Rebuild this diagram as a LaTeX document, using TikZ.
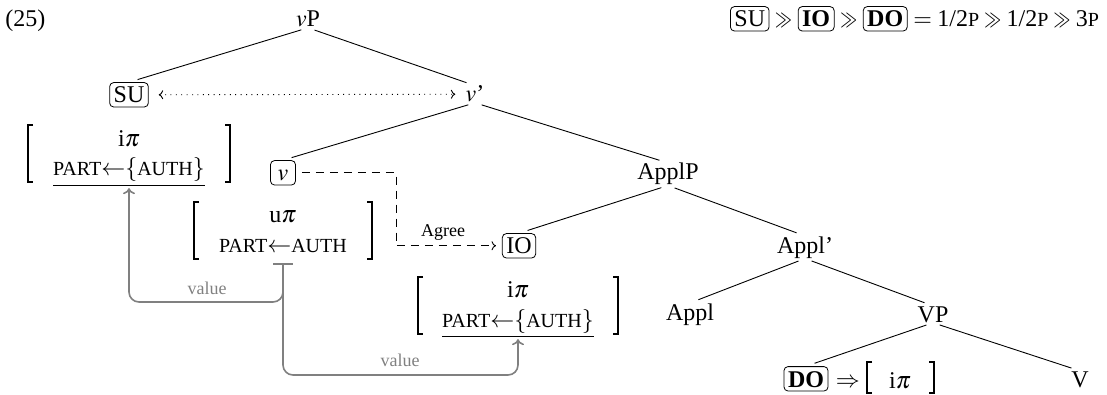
\documentclass[tikz,border=0pt]{standalone}
\usepackage{mathptmx}
\usepackage{graphicx}
\usepackage{fontspec}
\setmainfont{Liberation Serif}
\usetikzlibrary{arrows.meta}
% feature names are set in reduced capitals
\newcommand{\smc}[1]{{\fontsize{10pt}{11pt}\selectfont #1}}
% a narrower "much greater than"
\newcommand{\ggrel}{\mathrel{\scalebox{0.7}[1]{$\gg$}}}

\begin{document}
\begin{tikzpicture}[x=0.5pt,y=-0.5pt,
  every node/.style={font=\fontsize{12pt}{14pt}\selectfont},
  lbl/.style={inner sep=0pt, anchor=base},
  catbox/.style={draw, rounded corners=2pt, inner sep=2pt, line width=0.4pt,
                 text height=8.2pt, text depth=0pt, anchor=base},
  branch/.style={line width=0.45pt, shorten <=3.5pt, shorten >=4.5pt},
  featbar/.style={line width=0.6pt},
  valtip/.tip={To[length=3pt,width=6pt]},
  smalltip/.tip={To[length=2.2pt,width=4.5pt]},
  valuelink/.style={draw=black!50, line width=0.8pt, rounded corners=5pt, -valtip, shorten >=0.5pt},
  valuelbl/.style={lbl, text=black!50, font=\fontsize{9pt}{11pt}\selectfont},
  smalllbl/.style={lbl, font=\fontsize{9pt}{11pt}\selectfont},
]
\useasboundingbox (0,0) rectangle (1107,395);

% example number and hierarchy
\node[lbl, anchor=base west] (exnum) at (5,27) {(25)};
\node[catbox, anchor=base west] (f1) at (730,27) {SU};
\node[lbl, anchor=base west] (f2) at (f1.base east) {$\;\ggrel\;$};
\node[catbox, anchor=base west] (f3) at (f2.base east) {\textbf{IO}};
\node[lbl, anchor=base west] (f4) at (f3.base east) {$\;\ggrel\;$};
\node[catbox, anchor=base west] (f5) at (f4.base east) {\textbf{DO}};
\node[lbl, anchor=base west] (f6) at (f5.base east)
  {$\;=\;$1/2\smc{P}$\;\ggrel\;$1/2\smc{P}$\;\ggrel\;$3\smc{P}};

% tree nodes
\node[lbl] (vP) at (308,27) {$v$P};
\node[catbox] (su) at (129,103) {SU};
\node[lbl] (vbar) at (475,102) {$v$'};
\node[catbox, minimum width=12.5pt] (vhead) at (283,181) {$v$};
\node[lbl] (applP) at (668,180) {ApplP};
\node[catbox] (io) at (519,254) {IO};
\node[lbl] (applbar) at (805,253) {Appl'};
\node[lbl] (appl) at (690,320) {Appl};
\node[lbl] (vp) at (933,322) {VP};
\node[catbox] (do) at (806,387) {\textbf{DO}};
\node[lbl] (verb) at (1080,387) {V};

% branches
\draw[branch] (vP.south) -- (su.north);
\draw[branch] (vP.south) -- (vbar.north);
\draw[branch] (vbar.south) -- (vhead.north);
\draw[branch] (vbar.south) -- (applP.north);
\draw[branch] (applP.south) -- (io.north);
\draw[branch] (applP.south) -- (applbar.north);
\draw[branch] (applbar.south) -- (appl.north);
\draw[branch] (applbar.south) -- (vp.north);
\draw[branch] (vp.south) -- (do.north);
\draw[branch] (vp.south) -- (verb.north);

% feature bundles
\node[lbl] (lf1) at (129,147) {i$\pi$};
\node[lbl] (lf2) at (129,176) {\underline{\smc{PART}$\leftarrow$$\{$\smc{AUTH}$\}$}};
\draw[featbar] (33,125) -- (28,125) -- (28,182) -- (33,182);
\draw[featbar] (225,125) -- (230,125) -- (230,182) -- (225,182);

\node[lbl] (mf1) at (283,222) {u$\pi$};
\node[lbl] (mf2) at (283,252) {\smc{PART}$\leftarrow$\smc{AUTH}};
\draw[featbar] (199,202) -- (194,202) -- (194,259) -- (199,259);
\draw[featbar] (367,202) -- (372,202) -- (372,259) -- (367,259);

\node[lbl] (rf1) at (518,297) {i$\pi$};
\node[lbl] (rf2) at (518,327) {\underline{\smc{PART}$\leftarrow$$\{$\smc{AUTH}$\}$}};
\draw[featbar] (423,277) -- (418,277) -- (418,334) -- (423,334);
\draw[featbar] (613,277) -- (618,277) -- (618,334) -- (613,334);

\node[lbl, anchor=base west] (doarrow) at ([xshift=3.5pt]do.base east) {$\Rightarrow$};
\node[lbl] (df1) at (900,388) {i$\pi$};
\draw[featbar] (872,362) -- (867,362) -- (867,393) -- (872,393);
\draw[featbar] (929,362) -- (934,362) -- (934,393) -- (929,393);

% movement / agreement
\draw[line width=0.45pt, dash pattern=on 0.5pt off 2.2pt, smalltip-smalltip,
      shorten <=5pt, shorten >=5pt] (su.east) -- (vbar.west);
\coordinate (agreebend) at (396,0);
\draw[line width=0.45pt, dash pattern=on 4pt off 3pt, -smalltip,
      shorten <=3pt, shorten >=3pt] (vhead.east) -| (agreebend |- io.west) -- (io.west);
\node[smalllbl] (agree) at (443,236) {Agree};

% valuation
\coordinate (valsrc) at (283,263);
\coordinate (lowA) at (0,302);
\coordinate (lowB) at (0,375);
\draw[valuelink, {Bar[width=10pt]}-valtip] (valsrc) -- (valsrc |- lowA) -| (lf2.south);
\draw[valuelink] (valsrc) -- (valsrc |- lowB) -| (rf2.south);
\node[valuelbl] (val1) at (207,294) {value};
\node[valuelbl] (val2) at (400,366) {value};
\end{tikzpicture}
\end{document}
